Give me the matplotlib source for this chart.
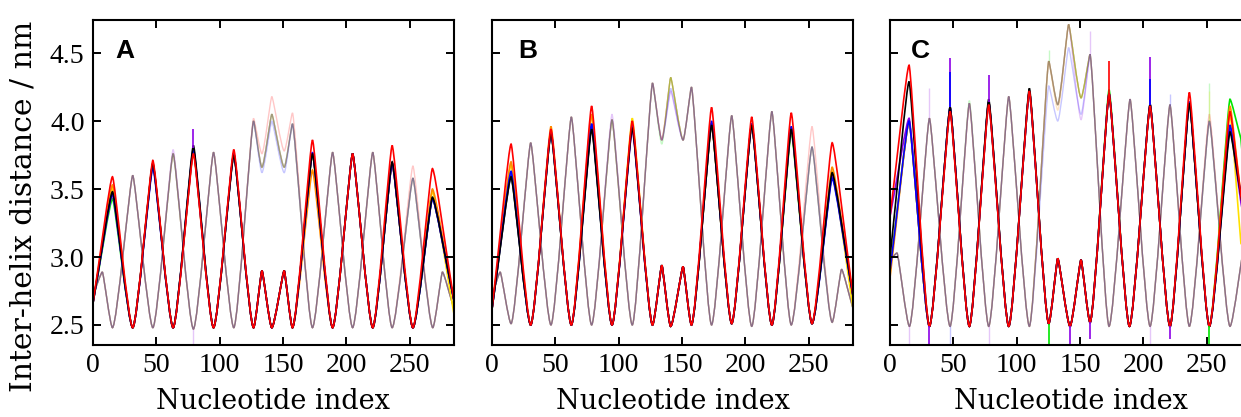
import matplotlib
matplotlib.use('Agg')
import matplotlib.pyplot as plt
from matplotlib.path import Path
from matplotlib.patches import PathPatch

plt.rcParams['font.family'] = ['Liberation Serif', 'DejaVu Serif']

# colours of the models
colours = {'green': '#00e600', 'yellow': '#ffe000', 'orange': '#ff8c00',
           'purple': '#8c00e6', 'blue': '#0000ff', 'black': '#000000',
           'red': '#ff0000'}
order_solid = ['green', 'yellow', 'orange', 'purple', 'blue', 'black', 'red']
order_faded = ['black', 'red', 'orange', 'yellow', 'green', 'blue', 'purple']

# ---- panel A : extrema of helix pair 1 (solid) and pair 2 (faded)
a_x1 = [0, 15.4, 31.4, 47.3, 63.3, 79.3, 95.2, 111.2, 126.8, 133.4, 141.2,
        151.0, 157.5, 173.3, 189.2, 205.0, 220.9, 236.2, 252.6, 268.0, 285]
a_y1 = [2.66, 3.48, 2.48, 3.68, 2.48, 3.78, 2.48, 3.76, 2.48, 2.90, 2.48,
        2.90, 2.48, 3.76, 2.48, 3.76, 2.48, 3.69, 2.48, 3.45, 2.68]
a_v1 = {'red': {1: 3.59, 3: 3.71, 5: 3.76, 7: 3.79, 13: 3.86, 17: 3.82, 19: 3.65},
        'orange': {1: 3.53, 13: 3.64, 19: 3.50},
        'yellow': {1: 3.50, 19: 3.48, 20: 2.58},
        'black': {3: 3.69, 5: 3.82, 7: 3.75, 17: 3.70, 19: 3.44},
        'blue': {1: 3.47, 3: 3.66, 5: 3.80, 13: 3.77, 19: 3.43},
        'purple': {1: 3.46, 19: 3.43},
        'green': {1: 3.43, 19: 3.43}}
a_s1 = [(79.3, 3.80, 3.94, 'purple')]
a_x2 = [0, 7.4, 15.4, 31.4, 47.3, 63.3, 79.3, 95.2, 111.2, 126.8, 133.4, 141.2,
        151.0, 157.5, 173.3, 189.2, 205.0, 220.9, 236.2, 252.6, 268.3, 275.9, 285]
a_y2 = [2.72, 2.89, 2.48, 3.60, 2.48, 3.76, 2.47, 3.77, 2.48, 4.00, 3.66, 4.05,
        3.66, 3.98, 2.48, 3.77, 2.48, 3.77, 2.48, 3.58, 2.48, 2.89, 2.62]
a_v2 = {'red': {9: 4.02, 10: 3.76, 11: 4.18, 12: 3.78, 13: 4.06, 19: 3.67},
        'blue': {10: 3.62, 11: 4.00, 12: 3.62},
        'purple': {5: 3.79}}
a_s2 = [(79.3, 2.47, 2.36, 'purple')]

# ---- panel B
b_x1 = [0, 15.0, 30.5, 46.5, 62.6, 78.6, 94.7, 110.7, 126.7, 134.0, 141.0,
        150.8, 157.4, 173.3, 189.2, 205.0, 220.9, 236.2, 252.6, 268.5, 285]
b_y1 = [2.62, 3.60, 2.50, 3.92, 2.50, 3.96, 2.50, 3.97, 2.50, 2.94, 2.49,
        2.93, 2.50, 3.98, 2.51, 3.98, 2.50, 3.95, 2.51, 3.60, 2.71]
b_v1 = {'red': {1: 3.83, 3: 3.94, 5: 4.11, 7: 4.00, 13: 4.10, 15: 4.03, 17: 4.06, 19: 3.84},
        'orange': {1: 3.70, 3: 3.96, 5: 4.05, 19: 3.66},
        'yellow': {1: 3.68, 5: 4.04, 7: 4.02, 19: 3.63, 20: 2.62},
        'black': {1: 3.59, 3: 3.91, 5: 3.94, 7: 3.95, 13: 3.97, 15: 3.97, 17: 3.94, 19: 3.62},
        'blue': {1: 3.63, 5: 3.98, 13: 4.00, 17: 3.96, 19: 3.58},
        'purple': {7: 3.94},
        'green': {17: 3.92}}
b_s1 = []
b_x2 = [0, 6.4, 15.0, 30.5, 46.5, 62.6, 78.6, 94.7, 110.7, 126.7, 134.0, 141.0,
        150.8, 157.4, 173.3, 189.2, 205.0, 220.9, 236.2, 252.6, 268.5, 275.9, 285]
b_y2 = [2.72, 2.89, 2.51, 3.84, 2.50, 4.03, 2.50, 4.01, 2.50, 4.28, 3.86, 4.32,
        3.86, 4.25, 2.50, 4.04, 2.49, 4.07, 2.50, 3.81, 2.52, 2.91, 2.62]
b_v2 = {'red': {19: 3.96},
        'purple': {7: 4.05, 11: 4.22},
        'blue': {11: 4.24},
        'green': {10: 3.83}}
b_s2 = []

# ---- panel C
c_x1 = [0, 15.0, 31.1, 47.4, 62.6, 77.9, 93.7, 110.0, 125.3, 132.4, 142.1,
        150.8, 157.9, 172.9, 189.0, 205.3, 221.0, 236.3, 252.1, 268.4, 277, 285]
c_y1 = [2.90, 4.00, 2.49, 4.10, 2.49, 4.14, 2.49, 4.22, 2.51, 2.99, 2.49,
        2.98, 2.52, 4.20, 2.49, 4.12, 2.49, 4.14, 2.49, 4.00, 3.45, 3.00]
c_v1 = {'red': {0: 3.30, 1: 4.41, 3: 4.07, 5: 4.12, 15: 4.11, 17: 4.21, 19: 4.07},
        'black': {0: 3.00, 1: 4.29, 5: 4.16, 7: 4.24, 17: 4.13, 19: 3.92},
        'purple': {0: 3.30, 1: 4.02, 19: 3.95, 20: 3.40},
        'blue': {19: 3.97},
        'green': {13: 4.23, 19: 4.16, 20: 3.87},
        'orange': {0: 2.85, 19: 4.11},
        'yellow': {19: 4.05, 20: 3.10}}
c_s1 = [(31.1, 2.49, 2.33, 'purple'), (47.4, 4.10, 4.46, 'purple'),
        (47.4, 4.10, 4.36, 'blue'), (77.9, 4.14, 4.34, 'purple'),
        (125.3, 2.51, 2.33, 'green'), (142.1, 2.49, 2.33, 'purple'),
        (157.9, 2.52, 2.40, 'purple'), (172.9, 4.20, 4.44, 'red'),
        (205.3, 4.12, 4.47, 'purple'), (205.3, 4.12, 4.31, 'blue'),
        (221.0, 2.49, 2.40, 'purple'), (252.1, 2.49, 2.33, 'green')]
c_x2 = [0, 5.5, 15.3, 31.1, 47.4, 62.6, 77.9, 93.7, 110.0, 125.3, 132.4, 141.0,
        150.8, 157.9, 172.9, 189.5, 205.3, 221.0, 236.3, 252.1, 268.4, 280, 285]
c_y2 = [2.98, 3.03, 2.49, 4.02, 2.49, 4.13, 2.49, 4.18, 2.49, 4.44, 4.12, 4.71,
        4.17, 4.49, 2.49, 4.16, 2.49, 4.12, 2.49, 4.00, 2.49, 3.10, 3.00]
c_v2 = {'blue': {9: 4.26, 10: 4.00, 11: 4.54, 12: 4.05},
        'purple': {12: 4.01},
        'green': {5: 4.15},
        'red': {19: 4.05},
        'orange': {10: 4.08}}
c_s2 = [(15.3, 2.49, 2.33, 'purple'), (31.1, 4.02, 4.24, 'purple'),
        (47.4, 2.49, 2.33, 'blue'), (77.9, 2.49, 2.33, 'purple'),
        (125.3, 4.44, 4.52, 'green'), (157.9, 4.49, 4.66, 'purple'),
        (205.3, 2.49, 2.33, 'purple'), (221.0, 4.12, 4.20, 'blue'),
        (252.1, 4.00, 4.28, 'green'), (252.1, 4.00, 4.22, 'yellow')]

panels = [('A', a_x1, a_y1, a_v1, a_s1, a_x2, a_y2, a_v2, a_s2),
          ('B', b_x1, b_y1, b_v1, b_s1, b_x2, b_y2, b_v2, b_s2),
          ('C', c_x1, c_y1, c_v1, c_s1, c_x2, c_y2, c_v2, c_s2)]


def smooth_path(xs, ys):
    # bezier through the extrema, flat tangent at minima / maxima
    n = len(xs)
    kind = []
    for i in range(n):
        if i == 0 or i == n - 1:
            kind.append('e')
        elif ys[i] < ys[i-1] and ys[i] < ys[i+1]:
            kind.append('t')
        elif ys[i] > ys[i-1] and ys[i] > ys[i+1]:
            kind.append('p')
        else:
            kind.append('e')
    hand = {'t': 0.22, 'p': 0.12}
    verts = [(xs[0], ys[0])]
    codes = [Path.MOVETO]
    for i in range(n - 1):
        dx = xs[i+1] - xs[i]
        dy = ys[i+1] - ys[i]
        if kind[i] in hand:
            c1 = (xs[i] + hand[kind[i]] * dx, ys[i])
        else:
            c1 = (xs[i] + dx / 3, ys[i] + dy / 3)
        if kind[i+1] in hand:
            c2 = (xs[i+1] - hand[kind[i+1]] * dx, ys[i+1])
        else:
            c2 = (xs[i+1] - dx / 3, ys[i+1] - dy / 3)
        verts += [c1, c2, (xs[i+1], ys[i+1])]
        codes += [Path.CURVE4] * 3
    return Path(verts, codes)


def draw_family(ax, xs, base, over, spikes, order, **kw):
    for c in order:
        ys = list(base)
        for i, v in over.get(c, {}).items():
            ys[i] = v
        ax.add_patch(PathPatch(smooth_path(xs, ys), fill=False,
                               edgecolor=colours[c], transform=ax.transData, **kw))
    for x, lo, hi, c in spikes:
        ax.vlines(x, lo, hi, colors=colours[c], **kw)


fig = plt.figure(figsize=(12.41, 4.17), dpi=100)
lefts = [0.0749, 0.3965, 0.7172]
letter_x = [0.062, 0.072, 0.058]

for k, (name, x1, y1, v1, s1, x2, y2, v2, s2) in enumerate(panels):
    ax = fig.add_axes([lefts[k], 0.1727, 0.2909, 0.7794])
    draw_family(ax, x2, y2, v2, s2, order_faded, lw=1.0, alpha=0.22)
    draw_family(ax, x1, y1, v1, s1, order_solid, lw=1.2)

    ax.set_xlim(0, 285)
    ax.set_ylim(2.353, 4.743)
    ax.set_xticks([0, 50, 100, 150, 200, 250])
    ax.set_yticks([2.5, 3.0, 3.5, 4.0, 4.5])
    ax.tick_params(direction='in', top=True, right=True, length=6, width=1.4,
                   labelsize=20, pad=6)
    for s in ax.spines.values():
        s.set_linewidth(1.5)
    if k > 0:
        ax.tick_params(labelleft=False)
    ax.set_xlabel('Nucleotide index', fontsize=19.5, family='DejaVu Serif',
                  labelpad=7)
    ax.text(letter_x[k], 0.883, name, transform=ax.transAxes, fontsize=19,
            fontweight='bold', family='Liberation Sans', va='baseline')

fig.text(0.019, 0.505, 'Inter-helix distance / nm', rotation=90,
         ha='center', va='center', fontsize=21.5, family='DejaVu Serif')

fig.savefig('out.png', dpi=100)
